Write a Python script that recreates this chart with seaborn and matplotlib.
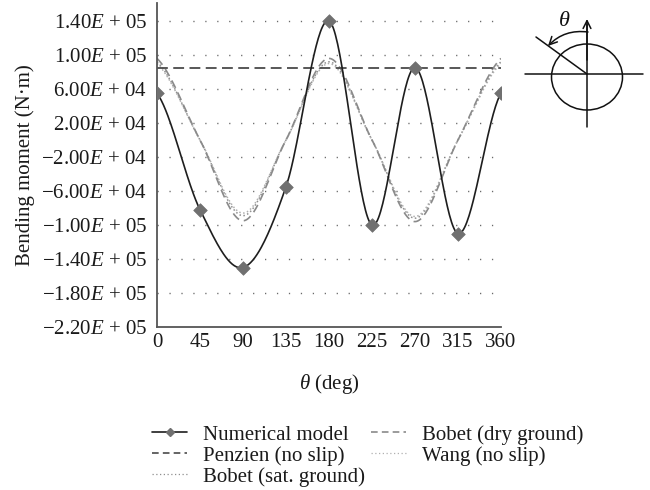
import numpy as np
import pandas as pd
import matplotlib
matplotlib.use("Agg")
import matplotlib.pyplot as plt
from matplotlib.lines import Line2D
from matplotlib.patches import Ellipse
import seaborn as sns

# ---- data ----
theta = [0, 45, 90, 135, 180, 225, 270, 315, 360]
numerical_model = [5.5e4, -8.2e4, -1.5e5, -5.5e4, 1.4e5, -1.0e5, 8.5e4, -1.1e5, 5.5e4]
penzien_no_slip = [8.45e4, 8.45e4, 8.45e4, 8.45e4, 8.45e4, 8.45e4, 8.45e4, 8.45e4, 8.45e4]
bobet_dry = [9.6e4, 0.0, -9.5e4, 0.0, 9.6e4, 0.0, -9.6e4, 0.0, 9.6e4]
wang_no_slip = [9.0e4, 0.0, -8.6e4, 0.0, 9.0e4, 0.0, -9.0e4, 0.0, 9.0e4]
bobet_sat = [9.2e4, 0.0, -8.9e4, 0.0, 9.2e4, 0.0, -9.2e4, 0.0, 9.2e4]

ytick_vals = [-2.2e5, -1.8e5, -1.4e5, -1.0e5, -6.0e4, -2.0e4, 2.0e4, 6.0e4, 1.0e5, 1.4e5]
ytick_labels = ["\u22122.20$E$ + 05", "\u22121.80$E$ + 05", "\u22121.40$E$ + 05",
                "\u22121.00$E$ + 05", "\u22126.00$E$ + 04", "\u22122.00$E$ + 04",
                "2.00$E$ + 04", "6.00$E$ + 04", "1.00$E$ + 05", "1.40$E$ + 05"]
xtick_vals = [0, 45, 90, 135, 180, 225, 270, 315, 360]
legend_labels = ["Numerical model", "Penzien (no slip)", "Bobet (sat. ground)",
                 "Bobet (dry ground)", "Wang (no slip)"]


def excel_smooth(x, y, n=40):
    """Smoothed-line rendering (Catmull-Rom, as a spreadsheet 'smoothed line')."""
    x = np.asarray(x, float)
    y = np.asarray(y, float)
    xs, ys = [], []
    m = len(x)
    for i in range(m - 1):
        p0 = y[i - 1] if i > 0 else y[i]
        p1, p2 = y[i], y[i + 1]
        p3 = y[i + 2] if i + 2 < m else y[i + 1]
        m1 = (p2 - p0) / 2.0
        m2 = (p3 - p1) / 2.0
        t = np.linspace(0, 1, n, endpoint=(i == m - 2))
        h00 = 2 * t**3 - 3 * t**2 + 1
        h10 = t**3 - 2 * t**2 + t
        h01 = -2 * t**3 + 3 * t**2
        h11 = t**3 - t**2
        ys.append(h00 * p1 + h10 * m1 + h01 * p2 + h11 * m2)
        xs.append(x[i] + t * (x[i + 1] - x[i]))
    return np.concatenate(xs), np.concatenate(ys)


sns.set_style("white")
plt.rcParams["font.family"] = ["Liberation Serif", "DejaVu Serif"]
plt.rcParams["mathtext.fontset"] = "custom"
plt.rcParams["mathtext.rm"] = "Liberation Serif"
plt.rcParams["mathtext.it"] = "Liberation Serif:italic"
plt.rcParams["axes.unicode_minus"] = True

W, H = 650, 490
fig = plt.figure(figsize=(6.5, 4.9), dpi=100)
ax = fig.add_axes([157 / W, 1 - 327 / H, (501 - 157) / W, (327 - 3) / H])

fs = 15
txt = "#1a1a1a"
c_num = "#1e1e1e"
c_marker = "#707070"
c_pen = "#4a4a4a"
c_dry = "#8a8a8a"
c_wang = "#b0b0b0"
c_sat = "#8f8f8f"

# dotted horizontal grid lines
for v in ytick_vals[1:]:
    ax.axhline(v, color="#6a6a6a", lw=1.0, ls=(0, (0.9, 7.7)), zorder=0)

series = [
    (bobet_sat, c_sat, (0, (1.0, 1.6)), 1.1),
    (wang_no_slip, c_wang, (0, (1.0, 1.6)), 1.1),
    (bobet_dry, c_dry, (0, (5, 3)), 1.2),
    (penzien_no_slip, c_pen, (0, (6, 3)), 1.3),
]
for vals, col, ls, lw in series:
    sx, sy = excel_smooth(theta, vals)
    sns.lineplot(data=pd.DataFrame({"theta": sx, "M": sy}), x="theta", y="M", ax=ax,
                 color=col, lw=lw, linestyle=ls, sort=False, estimator=None)

sx, sy = excel_smooth(theta, numerical_model)
sns.lineplot(data=pd.DataFrame({"theta": sx, "M": sy}), x="theta", y="M", ax=ax,
             color=c_num, lw=1.2, sort=False, estimator=None)
sns.scatterplot(data=pd.DataFrame({"theta": theta, "M": numerical_model}),
                x="theta", y="M", ax=ax, marker="D", s=48, color=c_marker,
                edgecolor=c_marker, linewidth=0.5, zorder=5)

ax.set_xlim(0, 360)
ax.set_ylim(-2.2e5, 1.4e5 + 18 / 34 * 4e4)
ax.set_xticks(xtick_vals)
ax.set_xticklabels([str(v) for v in xtick_vals], fontsize=fs)
ax.set_yticks(ytick_vals)
ax.set_yticklabels(ytick_labels, fontsize=fs)
ax.tick_params(axis="both", length=0, pad=7, colors=txt)
ax.tick_params(axis="x", pad=4)
for s in ["top", "right"]:
    ax.spines[s].set_visible(False)
for s in ["left", "bottom"]:
    ax.spines[s].set_color("#555555")
    ax.spines[s].set_linewidth(1.3)
ax.set_xlabel("$\\theta$ (deg)", fontsize=fs, labelpad=15, color=txt)
ax.set_ylabel("Bending moment (N\u00b7m)", fontsize=fs, labelpad=5, color=txt)

# legend
handles = [
    Line2D([0, 0.5, 1], [0, 0, 0], color=c_num, lw=1.2, marker="D", markersize=4,
           markerfacecolor=c_marker, markeredgecolor=c_marker, markevery=[1]),
    Line2D([], [], color=c_pen, lw=1.2, ls=(0, (4, 2.5))),
    Line2D([], [], color=c_sat, lw=0.9, ls=(0, (1, 2))),
    Line2D([], [], color=c_dry, lw=1.2, ls=(0, (4, 2.5))),
    Line2D([], [], color=c_wang, lw=0.9, ls=(0, (1, 2))),
]
leg = fig.legend(handles, legend_labels, ncol=2, loc="upper left",
                 bbox_to_anchor=(152 / W, 1 - 425 / H), frameon=False,
                 fontsize=fs, handlelength=1.68, handletextpad=0.77,
                 columnspacing=0.3, labelspacing=0.06, borderpad=0,
                 borderaxespad=0)
for t in leg.get_texts():
    t.set_color(txt)

# inset sketch (pixel coordinates of the figure region)
ia = fig.add_axes([520 / W, 1 - 135 / H, 130 / W, 135 / H])
ia.set_xlim(520, 650)
ia.set_ylim(135, 0)
ia.axis("off")
k = "#111111"
ia.add_patch(Ellipse((587, 77), 71, 66, fill=False, ec=k, lw=1.1))
ia.plot([525, 643], [74, 74], color=k, lw=1.1)
ia.plot([587, 587], [127, 24], color=k, lw=1.1)
ia.plot([536, 587], [37, 74], color=k, lw=1.1)
ia.annotate("", xy=(587, 19), xytext=(587, 60),
            arrowprops=dict(arrowstyle="->", color=k, lw=1.1, mutation_scale=14,
                            shrinkA=0, shrinkB=0))
ia.annotate("", xy=(548, 46), xytext=(588, 32),
            arrowprops=dict(arrowstyle="->", color=k, lw=1.1, mutation_scale=14,
                            shrinkA=0, shrinkB=0, connectionstyle="arc3,rad=0.25"))
ia.text(564, 21, "$\\theta$", fontsize=16, ha="center", va="center", color=k)

fig.savefig("out.png", dpi=100)
